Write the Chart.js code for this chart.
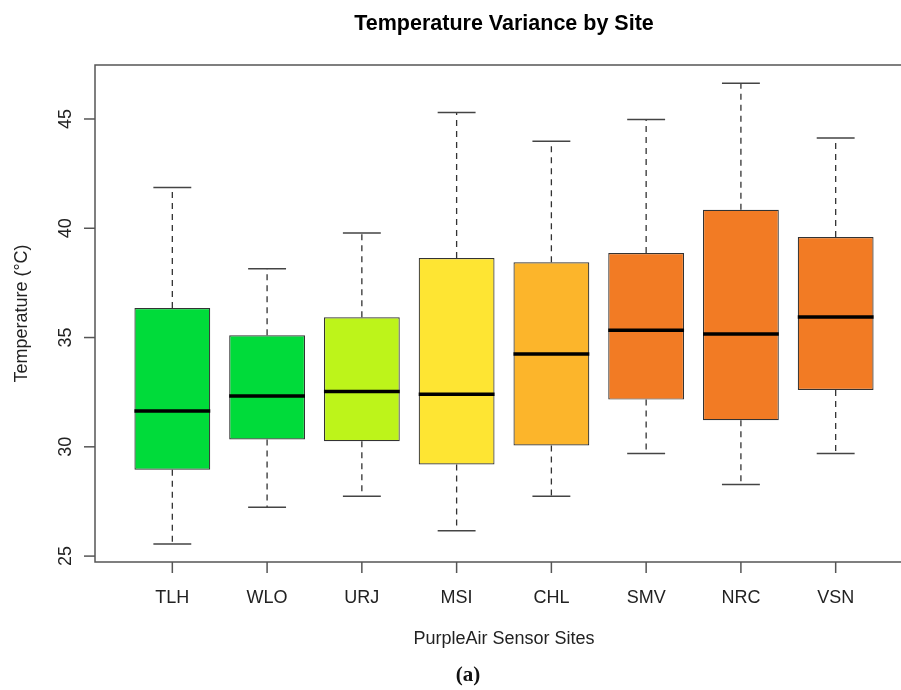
<!DOCTYPE html>
<html>
<head>
<meta charset="utf-8">
<title>Temperature Variance by Site</title>
<script src="https://cdn.jsdelivr.net/npm/chart.js@4.4.1/dist/chart.umd.min.js"></script>
<style>
    html, body { margin: 0; padding: 0; background: #fff; overflow: hidden; }
    #wrap { position: relative; width: 930px; height: 690px; }
    #caption {
        position: absolute; left: 428px; width: 80px; top: 662px;
        text-align: center; font: bold 21px "Liberation Serif", "DejaVu Serif", serif; color: #111;
    }
</style>
</head>
<body>
<div id="wrap">
    <canvas id="box-chart" width="930" height="690"></canvas>
    <div id="caption">(a)</div>
</div>
<script>
// Values (°C)
const sites = ['TLH', 'WLO', 'URJ', 'MSI', 'CHL', 'SMV', 'NRC', 'VSN'];
const whiskerLow  = [25.55, 27.24, 27.74, 26.16, 27.74, 29.70, 28.28, 29.70];
const q1          = [28.95, 30.34, 30.26, 29.19, 30.06, 32.16, 31.22, 32.60];
const median      = [31.64, 32.32, 32.53, 32.41, 34.25, 35.33, 35.16, 35.94];
const q3          = [36.35, 35.10, 35.93, 38.64, 38.44, 38.87, 40.85, 39.60];
const whiskerHigh = [41.87, 38.15, 39.78, 45.30, 43.98, 44.98, 46.63, 44.13];
const yTicks = [25, 30, 35, 40, 45];

const boxColors = ['#00db3a', '#00db3a', '#bdf41a', '#fee533', '#fcb52b', '#f27b24', '#f27b24', '#f27b24'];

const FONT = '"Liberation Sans", Arial, Helvetica, sans-serif';

// R-style decorations: whiskers, medians, frame, axes and titles
const boxplotDecor = {
    id: 'boxplotDecor',
    beforeDatasetsDraw(chart) {
        const { ctx, scales: { x, y } } = chart;
        const meta = chart.getDatasetMeta(0);
        ctx.save();
        sites.forEach((s, i) => {
            const cx = x.getPixelForValue(i + 1);
            const half = meta.data[i].width / 4;
            ctx.strokeStyle = '#333';
            ctx.lineWidth = 1.3;
            ctx.setLineDash([6, 5]);
            ctx.beginPath();
            ctx.moveTo(cx, y.getPixelForValue(q3[i]));
            ctx.lineTo(cx, y.getPixelForValue(whiskerHigh[i]));
            ctx.moveTo(cx, y.getPixelForValue(q1[i]));
            ctx.lineTo(cx, y.getPixelForValue(whiskerLow[i]));
            ctx.stroke();
            ctx.setLineDash([]);
            ctx.strokeStyle = '#444';
            ctx.lineWidth = 1.5;
            ctx.beginPath();
            ctx.moveTo(cx - half, y.getPixelForValue(whiskerHigh[i]));
            ctx.lineTo(cx + half, y.getPixelForValue(whiskerHigh[i]));
            ctx.moveTo(cx - half, y.getPixelForValue(whiskerLow[i]));
            ctx.lineTo(cx + half, y.getPixelForValue(whiskerLow[i]));
            ctx.stroke();
        });
        ctx.restore();
    },
    afterDatasetsDraw(chart) {
        const { ctx, chartArea: a, scales: { x, y } } = chart;
        const meta = chart.getDatasetMeta(0);
        ctx.save();

        // medians
        ctx.strokeStyle = '#000';
        ctx.lineWidth = 3.5;
        sites.forEach((s, i) => {
            const bar = meta.data[i];
            const my = y.getPixelForValue(median[i]);
            ctx.beginPath();
            ctx.moveTo(bar.x - bar.width / 2, my);
            ctx.lineTo(bar.x + bar.width / 2, my);
            ctx.stroke();
        });

        // frame
        ctx.strokeStyle = '#555';
        ctx.lineWidth = 1.5;
        ctx.strokeRect(a.left, a.top, a.right - a.left, a.bottom - a.top);

        // y axis ticks + rotated labels
        ctx.fillStyle = '#222';
        ctx.font = '18px ' + FONT;
        y.ticks.forEach(t => {
            const py = y.getPixelForValue(t.value);
            ctx.beginPath();
            ctx.moveTo(a.left, py);
            ctx.lineTo(a.left - 11, py);
            ctx.stroke();
            ctx.save();
            ctx.translate(71, py);
            ctx.rotate(-Math.PI / 2);
            ctx.textAlign = 'center';
            ctx.textBaseline = 'alphabetic';
            ctx.fillText(String(t.value), 0, 0);
            ctx.restore();
        });

        // x axis ticks + labels
        x.ticks.forEach(t => {
            const px = x.getPixelForValue(t.value);
            ctx.beginPath();
            ctx.moveTo(px, a.bottom);
            ctx.lineTo(px, a.bottom + 11);
            ctx.stroke();
            ctx.textAlign = 'center';
            ctx.textBaseline = 'alphabetic';
            ctx.fillText(sites[t.value - 1], px, 603);
        });

        // titles
        const mid = (a.left + a.right) / 2;
        ctx.fillText('PurpleAir Sensor Sites', mid, 644);
        ctx.save();
        ctx.translate(27, (a.top + a.bottom) / 2);
        ctx.rotate(-Math.PI / 2);
        ctx.fillText('Temperature (°C)', 0, 0);
        ctx.restore();

        ctx.fillStyle = '#000';
        ctx.font = 'bold 21.5px ' + FONT;
        ctx.fillText('Temperature Variance by Site', mid, 30);

        ctx.restore();
    }
};

const ctx = document.getElementById('box-chart').getContext('2d');

new Chart(ctx, {
    type: 'bar',
    data: {
        datasets: [{
            label: 'Temperature',
            data: sites.map((s, i) => ({ x: i + 1, y: [q1[i], q3[i]] })),
            backgroundColor: boxColors,
            borderColor: '#333',
            borderWidth: 1.2,
            borderSkipped: false,
            barPercentage: 0.8,
            categoryPercentage: 1
        }]
    },
    options: {
        responsive: false,
        animation: false,
        layout: { padding: { left: 95, top: 65, right: 17, bottom: 128 } },
        plugins: {
            legend: { display: false },
            title: { display: false },
            tooltip: { enabled: false }
        },
        scales: {
            x: {
                type: 'linear',
                display: false,
                offset: false,
                min: 0.184,
                max: 8.816,
                afterBuildTicks: scale => {
                    scale.ticks = sites.map((s, i) => ({ value: i + 1 }));
                }
            },
            y: {
                display: false,
                min: 24.73,
                max: 47.47,
                afterBuildTicks: scale => {
                    scale.ticks = yTicks.map(v => ({ value: v }));
                }
            }
        }
    },
    plugins: [boxplotDecor]
});
</script>
</body>
</html>
